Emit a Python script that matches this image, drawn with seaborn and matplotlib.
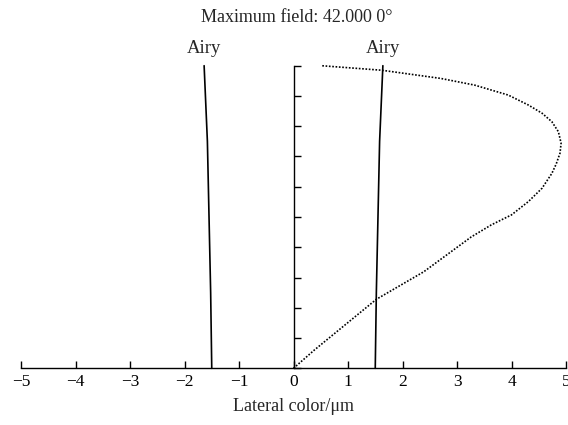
import numpy as np
import pandas as pd
import matplotlib
matplotlib.use('Agg')
import matplotlib.pyplot as plt
import seaborn as sns

# lateral color curve (x in um, y = normalized field)
curve_x = [0.0, 0.38, 0.76, 1.52, 2.39, 3.26, 3.63, 4.00, 4.31, 4.56, 4.74, 4.82,
           4.89, 4.91, 4.86, 4.74, 4.56, 4.31, 3.94, 3.32, 2.70, 1.62, 0.51]
curve_y = [0.0, 0.06, 0.116, 0.228, 0.319, 0.434, 0.474, 0.507, 0.551, 0.595, 0.644, 0.675,
           0.711, 0.744, 0.782, 0.815, 0.843, 0.870, 0.903, 0.936, 0.958, 0.985, 1.0]

# airy disk radius vs field
airy_y = [0.0, 0.25, 0.5, 0.75, 1.0]
airy_r = [1.50, 1.52, 1.55, 1.58, 1.64]

x_ticks = list(range(-5, 6))
y_ticks = [i / 10 for i in range(11)]

title = 'Maximum field: 42.000 0°'
xlabel = 'Lateral color/μm'

sns.set_style('white')
plt.rcParams['font.family'] = ['Liberation Serif', 'DejaVu Serif']

fig = plt.figure(figsize=(5.68, 4.25), dpi=100)
ax = fig.add_axes([21 / 568, (425 - 368.3) / 425, 545 / 568, 302.6 / 425])

curve = pd.DataFrame({'x': curve_x, 'y': curve_y})
airy = pd.DataFrame({'y': airy_y, 'right': airy_r, 'left': [-r for r in airy_r]})

sns.lineplot(data=curve, x='x', y='y', sort=False, estimator=None, ax=ax,
             color='black', linestyle=(0, (1, 1)), linewidth=1.2)
sns.lineplot(data=airy, x='right', y='y', sort=False, estimator=None, ax=ax,
             color='black', linewidth=1.2)
sns.lineplot(data=airy, x='left', y='y', sort=False, estimator=None, ax=ax,
             color='black', linewidth=1.2)
for line in ax.lines:
    line.set_clip_on(False)

ax.text(airy['left'].iloc[-1], 1.058, 'Airy', ha='center', va='center', fontsize=13.5)
ax.text(airy['right'].iloc[-1], 1.058, 'Airy', ha='center', va='center', fontsize=13.5)

ax.set_xlim(-5, 5)
ax.set_ylim(0, 1)
ax.set_xticks(x_ticks)
ax.set_yticks(y_ticks)
ax.set_yticklabels([])
ax.spines['top'].set_visible(False)
ax.spines['right'].set_visible(False)
ax.spines['left'].set_position(('data', 0))
for s in ['left', 'bottom']:
    ax.spines[s].set_color('black')
    ax.spines[s].set_linewidth(1.0)
ax.tick_params(axis='x', direction='in', length=5, width=1, colors='black',
               labelsize=12.5, pad=4, bottom=True)
ax.tick_params(axis='y', direction='in', length=5, width=1, colors='black', left=True)
ax.set_xlabel(xlabel, fontsize=13, labelpad=6)
ax.set_ylabel('')
fig.text(297 / 568, (425 - 18) / 425, title, ha='center', va='center', fontsize=13)

fig.savefig('out.png', dpi=100)
